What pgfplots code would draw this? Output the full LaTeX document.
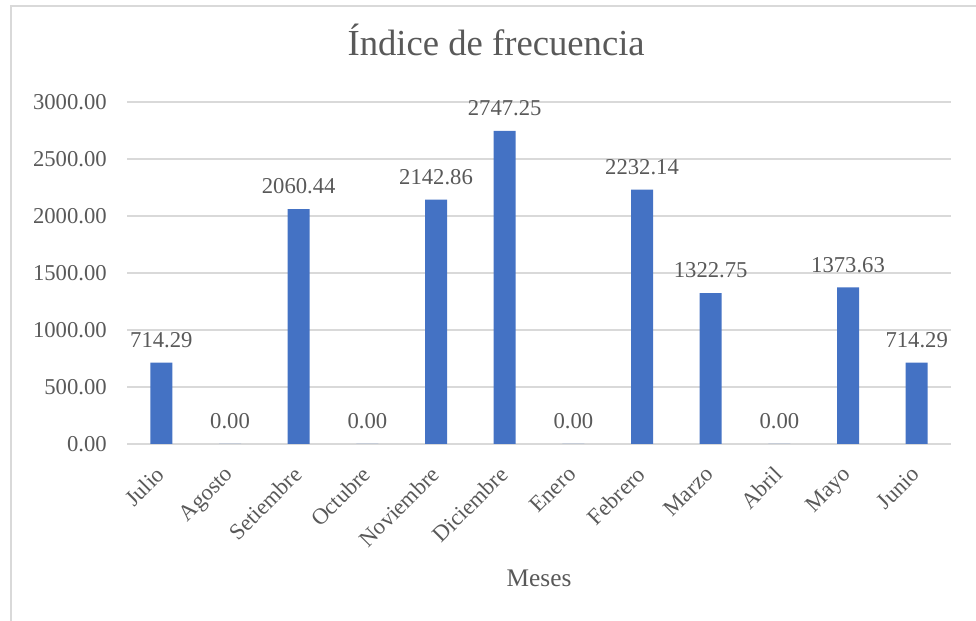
\documentclass[border=0pt]{standalone}
\usepackage{fontspec}
\setmainfont{Liberation Serif}
\usepackage{pgfplots}
\pgfplotsset{compat=1.18}
\definecolor{barblue}{HTML}{4472C4}
\definecolor{txt}{HTML}{595959}
\definecolor{gridc}{HTML}{D9D9D9}
\begin{document}
\begin{tikzpicture}
\useasboundingbox (0,0) rectangle (732pt,465.75pt);
\draw[gridc, line width=1.2pt] (8.25pt,0) -- (8.25pt,461.25pt) -- (732pt,461.25pt);
\begin{axis}[
  at={(95.25pt,132.75pt)}, anchor=south west,
  width=618pt, height=256.5pt, scale only axis,
  ybar, bar width=16.5pt,
  xmin=-0.5, xmax=11.5, ymin=0, ymax=3000,
  xtick={0,...,11},
  xticklabels={Julio,Agosto,Setiembre,Octubre,Noviembre,Diciembre,Enero,Febrero,Marzo,Abril,Mayo,Junio},
  ytick={0,500,...,3000},
  major tick length=0pt,
  axis line style={draw=none},
  ymajorgrids, grid style={gridc, line width=1.1pt},
  /pgf/number format/.cd, fixed, fixed zerofill, precision=2, 1000 sep={}, assume math mode=true, /pgfplots/.cd,
  tick label style={font=\fontsize{17}{20}\selectfont, text=txt},
  yticklabel style={inner sep=0pt, xshift=-15pt},
  xticklabel style={rotate=45, anchor=north east, inner sep=0pt, xshift=-14.5pt, yshift=-7.5pt},
  nodes near coords,
  nodes near coords style={font=\fontsize{17}{20}\selectfont, text=txt, anchor=south, inner sep=0pt, yshift=11pt},
  title={Índice de frecuencia},
  title style={font=\fontsize{27.5}{32}\selectfont, text=txt, at={(axis description cs:0.448,1.158)}, anchor=center},
  xlabel={Meses},
  xlabel style={font=\fontsize{19}{22}\selectfont, text=txt, at={(axis description cs:0.5,-0.392)}, anchor=center},
]
\addplot[fill=barblue, draw=none] coordinates {
(0,714.29) (1,0) (2,2060.44) (3,0) (4,2142.86) (5,2747.25)
(6,0) (7,2232.14) (8,1322.75) (9,0) (10,1373.63) (11,714.29)
};
\end{axis}
\end{tikzpicture}
\end{document}
